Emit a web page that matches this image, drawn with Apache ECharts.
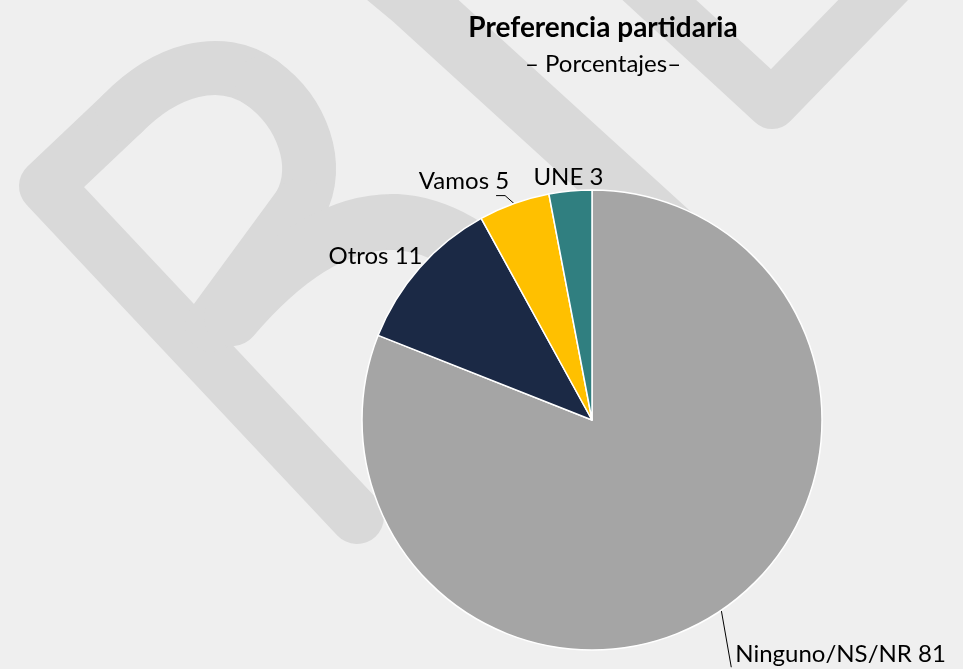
<!DOCTYPE html>
<html>
<head>
<meta charset="utf-8">
<script src="https://cdn.jsdelivr.net/npm/echarts@6/dist/echarts.min.js"></script>
<style>
  html, body { margin: 0; padding: 0; background: #efefef; }
  #main { width: 963px; height: 669px; }
</style>
</head>
<body>
<div id="main"></div>
<script>
// datos
var categories = ['Ninguno/NS/NR', 'Otros', 'Vamos', 'UNE'];
var values = [81, 11, 5, 3];
var colors = ['#a5a5a5', '#1b2945', '#ffc000', '#307f80'];

var center = [592, 420];
var radius = 230;
var font = 'Lato';

// donde cae cada etiqueta respecto al punto medio del borde de su porción
var placement = [
  { dx: 14, dy: 44, align: 'left', line: [[0, 0], [10, 57]] },
  { dx: 3, dy: -12, align: 'right', line: null },
  { dx: -5, dy: -22, align: 'right', line: [[0, 0], [-9, -8], [-18, -8]] },
  { dx: -2, dy: -14, align: 'center', line: null }
];

// punto medio del borde exterior de cada porción (sentido horario desde arriba)
var total = values.reduce(function (a, b) { return a + b; }, 0);
var edges = [];
var acc = 0;
for (var i = 0; i < values.length; i++) {
  var mid = (acc + values[i] / 2) / total;
  var ang = (90 - mid * 360) * Math.PI / 180;
  edges.push([center[0] + radius * Math.cos(ang), center[1] - radius * Math.sin(ang)]);
  acc += values[i];
}

// marca de agua de fondo
function wmStyle(w) {
  return { stroke: '#d9d9d9', fill: null, lineWidth: w, lineCap: 'round', lineJoin: 'round' };
}
function poly(pts, w) {
  return { type: 'polyline', z: -10, silent: true, shape: { points: pts }, style: wmStyle(w) };
}
function curve(a, c1, c2, b, w) {
  return { type: 'bezierCurve', z: -10, silent: true,
    shape: { x1: a[0], y1: a[1], cpx1: c1[0], cpy1: c1[1], cpx2: c2[0], cpy2: c2[1], x2: b[0], y2: b[1] },
    style: wmStyle(w) };
}

var myChart = echarts.init(document.getElementById('main'));
myChart.setOption({
  backgroundColor: '#efefef',
  animation: false,
  graphic: [
    poly([[357, 517], [46, 186], [122, 114]], 54),
    curve([122, 114], [165, 70], [220, 53], [262, 83], 54),
    curve([262, 83], [302, 112], [322, 165], [300, 205], 54),
    poly([[300, 205], [212, 325]], 54),
    curve([232, 318], [290, 250], [345, 221], [395, 222], 56),
    curve([395, 222], [440, 224], [480, 250], [520, 290], 56),
    poly([[366, -40], [414, 0], [730, 288]], 60),
    poly([[616, -40], [772, 104], [912, -40]], 50),
    { type: 'text', z: 100, style: { text: 'Preferencia partidaria', x: 603, y: 28,
      textAlign: 'center', textVerticalAlign: 'middle', font: 'bold 28px ' + font, fill: '#000' } },
    { type: 'text', z: 100, style: { text: '\u2013 Porcentajes\u2013', x: 603, y: 64,
      textAlign: 'center', textVerticalAlign: 'middle', font: '24px ' + font, fill: '#000' } }
  ],
  series: [{
    type: 'pie',
    center: center,
    radius: radius,
    startAngle: 90,
    clockwise: true,
    avoidLabelOverlap: false,
    emphasis: { disabled: true },
    itemStyle: { borderColor: '#ffffff', borderWidth: 1.5 },
    label: {
      show: true,
      position: 'outside',
      formatter: '{b} {c}',
      color: '#000',
      fontFamily: font,
      fontSize: 24
    },
    labelLine: { show: true, length: 5, length2: 5, lineStyle: { color: '#000', width: 1 } },
    labelLayout: function (params) {
      var p = placement[params.dataIndex];
      var e = edges[params.dataIndex];
      var out = { x: e[0] + p.dx, y: e[1] + p.dy, align: p.align, verticalAlign: 'middle' };
      if (p.line) {
        out.labelLinePoints = p.line.map(function (q) { return [e[0] + q[0], e[1] + q[1]]; });
      }
      return out;
    },
    data: categories.map(function (name, k) {
      return {
        name: name,
        value: values[k],
        itemStyle: { color: colors[k] },
        labelLine: { show: !!placement[k].line }
      };
    })
  }]
});
</script>
</body>
</html>
